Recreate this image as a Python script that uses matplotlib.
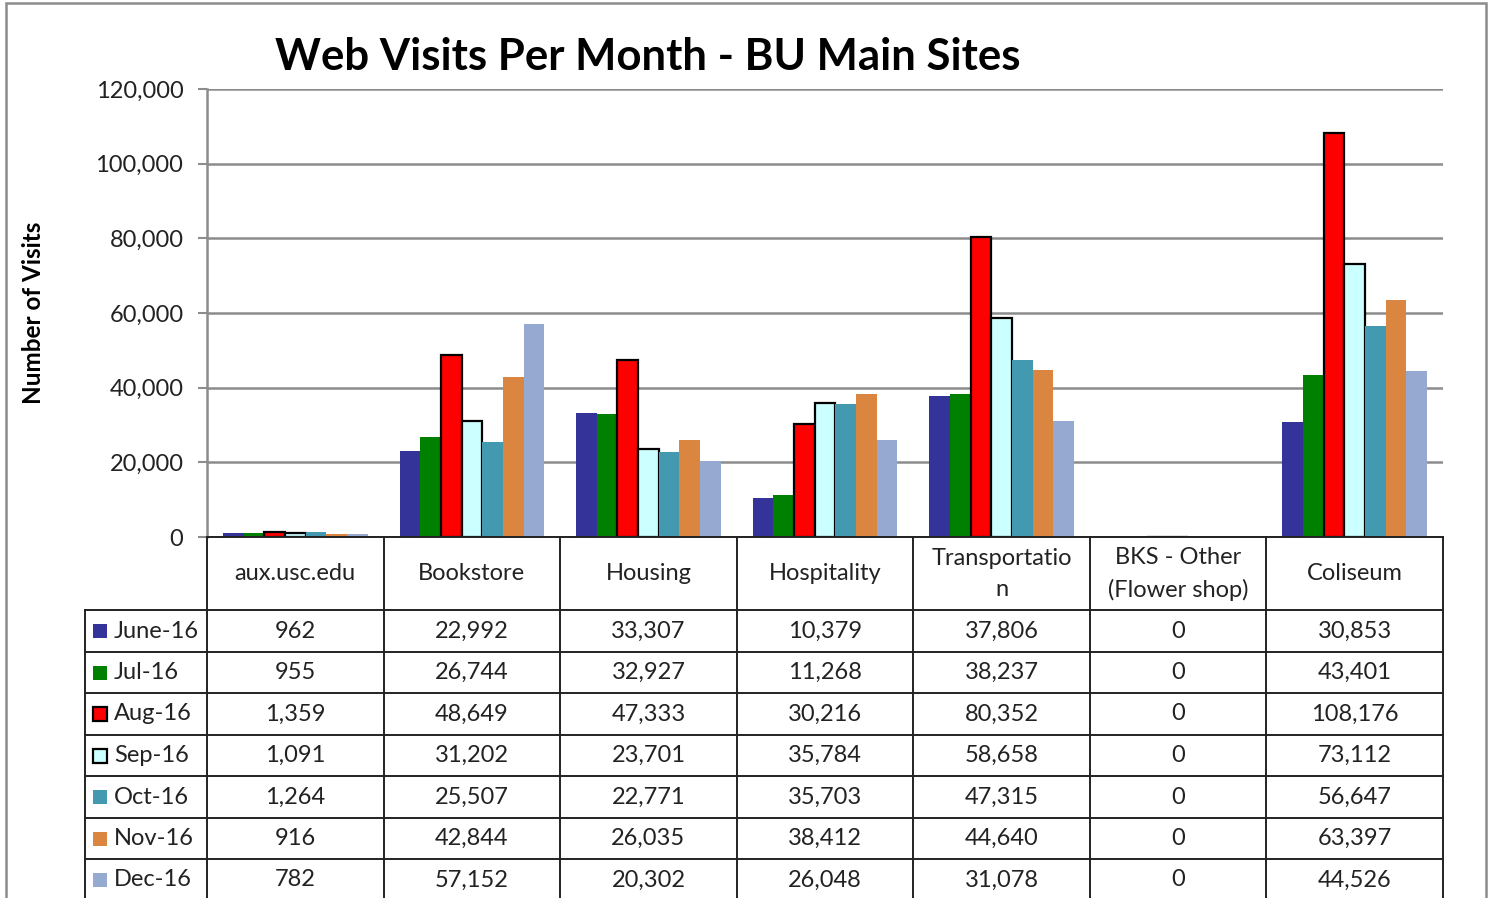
import matplotlib
matplotlib.use("Agg")
import matplotlib.pyplot as plt
from matplotlib.lines import Line2D
from matplotlib.patches import Rectangle
import numpy as np

plt.rcParams['font.family'] = ['Lato', 'DejaVu Sans']

categories = ["aux.usc.edu", "Bookstore", "Housing", "Hospitality",
              "Transportatio\nn", "BKS - Other\n(Flower shop)", "Coliseum"]
months = ["June-16", "Jul-16", "Aug-16", "Sep-16", "Oct-16", "Nov-16", "Dec-16"]
june = [962, 22992, 33307, 10379, 37806, 0, 30853]
jul = [955, 26744, 32927, 11268, 38237, 0, 43401]
aug = [1359, 48649, 47333, 30216, 80352, 0, 108176]
sep = [1091, 31202, 23701, 35784, 58658, 0, 73112]
oct_ = [1264, 25507, 22771, 35703, 47315, 0, 56647]
nov = [916, 42844, 26035, 38412, 44640, 0, 63397]
dec = [782, 57152, 20302, 26048, 31078, 0, 44526]
series = [june, jul, aug, sep, oct_, nov, dec]
colors = ["#333399", "#008000", "#FF0000", "#CCFFFF", "#4299B0", "#DA8540", "#95A9D1"]
edged = [False, False, True, True, False, False, False]
yticks = [0, 20000, 40000, 60000, 80000, 100000, 120000]

W, H = 1491, 898
fig = plt.figure(figsize=(W / 100, H / 100), dpi=100)
fig.patch.set_facecolor("white")

def fx(px):
    return px / W

def fy(py):
    return 1 - py / H

# outer border
fig.add_artist(Rectangle((fx(6), fy(910)), fx(1486) - fx(6), fy(3) - fy(910),
                         transform=fig.transFigure, fill=False,
                         edgecolor="#8c8c8c", linewidth=1.8))

left, right, top, bottom = 207, 1443, 89, 537
ax = fig.add_axes([fx(left), fy(bottom), fx(right) - fx(left), fy(top) - fy(bottom)])
ax.set_xlim(-0.5, len(categories) - 0.5)
ax.set_ylim(0, 120000)
ax.set_yticks(yticks)
ax.set_yticklabels([f"{v:,}" for v in yticks], fontsize=17, color="#222222")
ax.tick_params(axis="y", length=6.5, width=1.5, color="#8c8c8c", pad=10.5)
ax.set_xticks([])
for s in ["top", "right", "bottom"]:
    ax.spines[s].set_visible(False)
ax.spines["left"].set_color("#8c8c8c")
ax.spines["left"].set_linewidth(1.8)
ax.yaxis.grid(True, color="#8c8c8c", linewidth=1.8)
ax.set_axisbelow(True)

x = np.arange(len(categories))
bw = 0.117
n = len(series)
for i, (vals, c, e) in enumerate(zip(series, colors, edged)):
    off = (i - (n - 1) / 2) * bw
    ax.bar(x + off, vals, width=bw, color=c,
           edgecolor="black" if e else c,
           linewidth=1.6 if e else 0.0, zorder=3)

fig.text(fx(648), fy(57), "Web Visits Per Month - BU Main Sites",
         fontsize=31.5, fontweight="bold", ha="center", va="center", color="black")
fig.text(fx(34), fy(313), "Number of Visits", fontsize=17.5, fontweight="bold",
         rotation=90, ha="center", va="center", color="black")

# data table
col_w = (right - left) / len(categories)
col_edges = [left + k * col_w for k in range(len(categories) + 1)]
row_edges = [610, 652, 693, 735, 776, 818, 859, 901]
lc = "#222222"
lw = 1.4

def hline(y, x0, x1):
    fig.add_artist(Line2D([fx(x0), fx(x1)], [fy(y), fy(y)], transform=fig.transFigure,
                          color=lc, linewidth=lw))

def vline(xp, y0, y1):
    fig.add_artist(Line2D([fx(xp), fx(xp)], [fy(y0), fy(y1)], transform=fig.transFigure,
                          color=lc, linewidth=lw))

hline(bottom, left, right)
for r in row_edges:
    hline(r, 85, right)
for cx in col_edges:
    vline(cx, bottom, 905)
vline(85, row_edges[0], 905)

for k, cat in enumerate(categories):
    cxp = (col_edges[k] + col_edges[k + 1]) / 2
    fig.text(fx(cxp), fy(574), cat, fontsize=17, ha="center", va="center",
             color="#222222", linespacing=1.6)

for r, (m, vals, c, e) in enumerate(zip(months, series, colors, edged)):
    cy = (row_edges[r] + row_edges[r + 1]) / 2
    fig.add_artist(Rectangle((fx(93), fy(cy + 7)), fx(14), 14 / H,
                             transform=fig.transFigure, facecolor=c,
                             edgecolor="black" if e else c, linewidth=1.6 if e else 0))
    fig.text(fx(114), fy(cy), m, fontsize=17, ha="left", va="center", color="#222222")
    for k, v in enumerate(vals):
        cxp = (col_edges[k] + col_edges[k + 1]) / 2
        fig.text(fx(cxp), fy(cy), f"{v:,}", fontsize=17, ha="center", va="center",
                 color="#222222")

fig.savefig("out.png", dpi=100, facecolor="white")
